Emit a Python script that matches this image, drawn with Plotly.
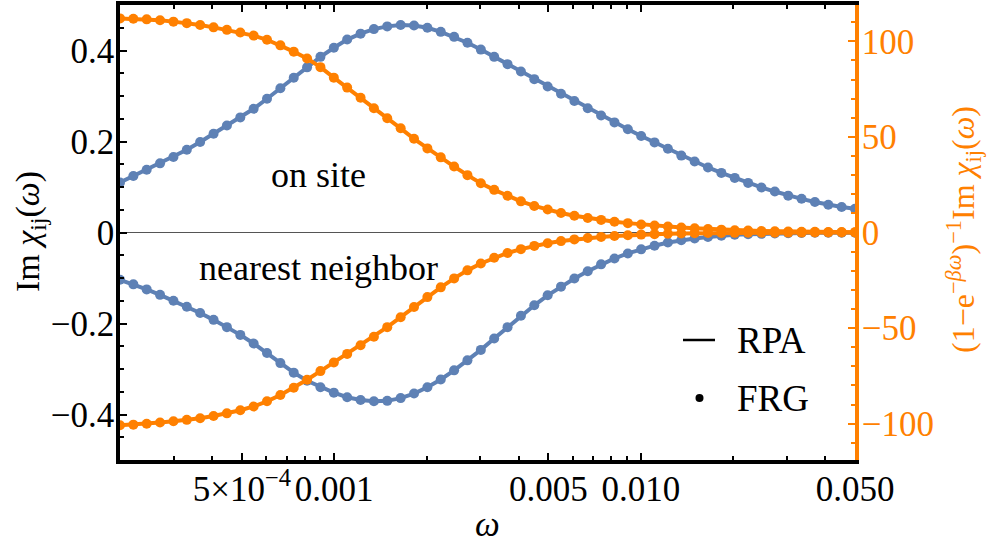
import plotly.graph_objects as go

# ---------------- data ----------------
omega = [2.000e-4, 2.211e-4, 2.444e-4, 2.702e-4, 2.988e-4, 3.304e-4, 3.652e-4, 4.039e-4,
         4.465e-4, 4.938e-4, 5.458e-4, 6.034e-4, 6.672e-4, 7.376e-4, 8.155e-4, 9.016e-4,
         9.969e-4, 1.102e-3, 1.219e-3, 1.347e-3, 1.489e-3, 1.647e-3, 1.821e-3, 2.013e-3,
         2.226e-3, 2.461e-3, 2.720e-3, 3.008e-3, 3.325e-3, 3.676e-3, 4.065e-3, 4.494e-3,
         4.969e-3, 5.493e-3, 6.073e-3, 6.715e-3, 7.424e-3, 8.208e-3, 9.075e-3, 1.003e-2,
         1.109e-2, 1.226e-2, 1.356e-2, 1.499e-2, 1.657e-2, 1.832e-2, 2.026e-2, 2.240e-2,
         2.476e-2, 2.738e-2, 3.027e-2, 3.347e-2, 3.700e-2, 4.091e-2, 4.523e-2, 5.000e-2]

im_chi_onsite = [0.110, 0.124, 0.138, 0.152, 0.166, 0.182, 0.199, 0.217, 0.235, 0.253,
                 0.272, 0.294, 0.317, 0.340, 0.363, 0.386, 0.406, 0.424, 0.437, 0.447,
                 0.453, 0.456, 0.455, 0.450, 0.441, 0.430, 0.417, 0.402, 0.386, 0.370,
                 0.354, 0.337, 0.321, 0.305, 0.289, 0.273, 0.257, 0.242, 0.227, 0.212,
                 0.198, 0.184, 0.169, 0.156, 0.143, 0.131, 0.120, 0.109, 0.099, 0.090,
                 0.081, 0.074, 0.067, 0.061, 0.056, 0.052]

im_chi_nn = [-0.104, -0.114, -0.125, -0.137, -0.150, -0.163, -0.177, -0.192, -0.208, -0.225,
             -0.244, -0.265, -0.287, -0.308, -0.326, -0.340, -0.352, -0.362, -0.368, -0.371,
             -0.370, -0.364, -0.354, -0.340, -0.323, -0.303, -0.281, -0.258, -0.233, -0.208,
             -0.183, -0.160, -0.138, -0.119, -0.101, -0.085, -0.070, -0.057, -0.046, -0.037,
             -0.029, -0.022, -0.017, -0.013, -0.010, -0.007, -0.005, -0.004, -0.003, -0.002,
             -0.0015, -0.001, -0.0007, -0.0005, -0.0004, -0.0003]

scaled_onsite = [112.0, 111.8, 111.5, 111.0, 110.3, 109.5, 108.5, 107.3, 106.0, 104.6,
                 103.0, 100.8, 97.9, 94.6, 91.0, 86.5, 81.0, 75.8, 70.5, 65.0,
                 59.8, 54.5, 49.0, 44.0, 39.3, 34.5, 30.0, 25.8, 22.3, 19.2,
                 16.3, 13.9, 12.0, 10.2, 8.8, 7.6, 6.6, 5.6, 4.9, 4.2,
                 3.6, 3.1, 2.6, 2.2, 1.8, 1.5, 1.2, 1.0, 0.8, 0.65,
                 0.5, 0.4, 0.33, 0.27, 0.22, 0.18]

scaled_nn = [-100.8, -100.5, -100.0, -99.4, -98.7, -98.0, -97.2, -96.0, -94.6, -93.0,
             -91.0, -88.3, -85.0, -81.2, -77.0, -72.5, -68.0, -63.5, -59.0, -54.5,
             -49.5, -44.3, -39.0, -33.8, -28.7, -24.0, -19.8, -16.2, -13.2, -10.7,
             -8.7, -7.0, -5.6, -4.5, -3.6, -2.9, -2.3, -1.8, -1.4, -1.1,
             -0.85, -0.65, -0.5, -0.4, -0.3, -0.23, -0.18, -0.14, -0.11, -0.08,
             -0.06, -0.05, -0.04, -0.03, -0.02, -0.02]

x_tickvals = [5e-4, 1e-3, 5e-3, 1e-2, 5e-2]
x_ticktext = ["5\u00d710<sup>\u22124</sup>", "0.001", "0.005", "0.010", "0.050"]
x_minor = [2e-4, 3e-4, 4e-4, 6e-4, 7e-4, 8e-4, 9e-4,
           2e-3, 3e-3, 4e-3, 6e-3, 7e-3, 8e-3, 9e-3,
           2e-2, 3e-2, 4e-2]
y1_tickvals = [-0.4, -0.2, 0, 0.2, 0.4]
y1_ticktext = ["\u22120.4", "\u22120.2", "0", "0.2", "0.4"]
y2_tickvals = [-100, -50, 0, 50, 100]
y2_ticktext = ["\u2212100", "\u221250", "0", "50", "100"]

# ---------------- style ----------------
BLUE = "#5E81B5"
ORANGE = "#FF8000"
FONT = "Liberation Serif"
W, H = 987, 549
L, R, T, B = 120, 132, 5, 89
PW, PH = W - L - R, H - T - B


def px(x):
    return (x - L) / PW


def py(y):
    return (H - B - y) / PH


fig = go.Figure()
for yv in (im_chi_onsite, im_chi_nn):
    fig.add_trace(go.Scatter(x=omega, y=yv, mode="lines+markers",
                             line=dict(color=BLUE, width=4),
                             marker=dict(color=BLUE, size=10),
                             showlegend=False, yaxis="y"))
for yv in (scaled_onsite, scaled_nn):
    fig.add_trace(go.Scatter(x=omega, y=yv, mode="lines+markers",
                             line=dict(color=ORANGE, width=4),
                             marker=dict(color=ORANGE, size=10),
                             showlegend=False, yaxis="y2"))

TICKSIZE = 35
tickfont = dict(family=FONT, size=TICKSIZE, color="black")

fig.update_layout(
    width=W, height=H,
    margin=dict(l=L, r=R, t=T, b=B, pad=0, autoexpand=False),
    paper_bgcolor="white", plot_bgcolor="white",
    font=dict(family=FONT, color="black"),
    xaxis=dict(type="log", range=[-3.69897, -1.30103],
               tickvals=x_tickvals, ticktext=x_ticktext,
               ticks="inside", ticklen=7, tickwidth=2, tickcolor="black",
               minor=dict(tickvals=x_minor, ticks="inside", ticklen=4,
                          tickwidth=1.5, tickcolor="black"),
               showline=True, linecolor="black", linewidth=3.5, mirror="ticks",
               showgrid=False, zeroline=False, tickfont=tickfont,
               ticklabelstandoff=-5),
    yaxis=dict(range=[-0.5, 0.5], tickvals=y1_tickvals, ticktext=y1_ticktext,
               ticks="inside", ticklen=7, tickwidth=2, tickcolor="black",
               minor=dict(dtick=0.05, tick0=0, ticks="inside", ticklen=4,
                          tickwidth=1.5, tickcolor="black"),
               showline=True, linecolor="black", linewidth=3.5,
               showgrid=False, zeroline=True, zerolinecolor="#555555",
               zerolinewidth=1, tickfont=tickfont, ticklabelstandoff=-5),
    yaxis2=dict(range=[-119, 119], overlaying="y", side="right",
                tickvals=y2_tickvals, ticktext=y2_ticktext,
                ticks="inside", ticklen=7, tickwidth=2, tickcolor=ORANGE,
                minor=dict(dtick=10, tick0=0, ticks="inside", ticklen=4,
                           tickwidth=1.5, tickcolor=ORANGE),
                showline=True, linecolor=ORANGE, linewidth=3.5,
                showgrid=False, zeroline=False,
                tickfont=dict(family=FONT, size=TICKSIZE, color=ORANGE),
                ticklabelstandoff=-4),
)

ann = [
    dict(text="on site", x=px(318), y=py(175), size=36),
    dict(text="nearest neighbor", x=px(318), y=py(268), size=36),
    dict(text="<i>\u03c9</i>", x=px(487), y=py(524), size=35),
]
for a in ann:
    fig.add_annotation(text=a["text"], x=a["x"], y=a["y"], xref="paper", yref="paper",
                       showarrow=False, xanchor="center", yanchor="middle",
                       font=dict(family=FONT, size=a["size"], color="black"))

fig.add_annotation(text="RPA", x=px(735), y=py(340), xref="paper", yref="paper",
                   showarrow=False, xanchor="left", yanchor="middle",
                   font=dict(family=FONT, size=37, color="black"))
fig.add_annotation(text="FRG", x=px(735), y=py(398), xref="paper", yref="paper",
                   showarrow=False, xanchor="left", yanchor="middle",
                   font=dict(family=FONT, size=37, color="black"))
fig.add_shape(type="line", xref="paper", yref="paper",
              x0=px(683), x1=px(715), y0=py(340), y1=py(340),
              line=dict(color="black", width=2.5))
fig.add_shape(type="circle", xref="paper", yref="paper",
              x0=px(695.5), x1=px(703.5), y0=py(402), y1=py(394),
              line=dict(color="black", width=0), fillcolor="black")

fig.add_annotation(text="Im <i>\u03c7</i><sub>ij</sub>(<i>\u03c9</i>)",
                   x=px(30), y=py(232), xref="paper", yref="paper",
                   showarrow=False, xanchor="center", yanchor="middle", textangle=-90,
                   font=dict(family=FONT, size=34, color="black"))
fig.add_annotation(text="(1\u2212e<sup>\u2212<i>\u03b2\u03c9</i></sup>)<sup>\u22121</sup>Im <i>\u03c7</i><sub>ij</sub>(<i>\u03c9</i>)",
                   x=px(963), y=py(230), xref="paper", yref="paper",
                   showarrow=False, xanchor="center", yanchor="middle", textangle=-90,
                   font=dict(family=FONT, size=32, color=ORANGE))

fig.write_html("out.html", config={"displayModeBar": False},
               post_script="document.body.style.margin='0px';document.body.style.overflow='hidden';")
